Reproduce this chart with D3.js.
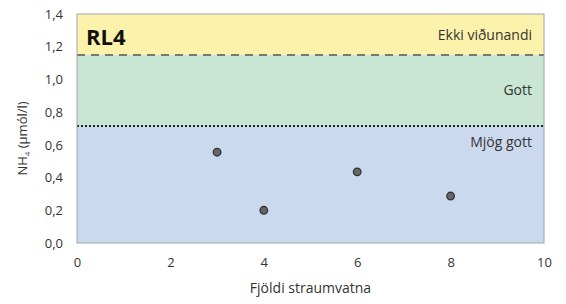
<!DOCTYPE html>
<html>
<head>
  <script src="https://d3js.org/d3.v7.min.js"></script>
  <style>
    body { margin: 0; background: #fff; }
    text { font-family: "Open Sans", sans-serif; fill: #333; }
  </style>
</head>
<body>
  <script>
    // data
    var xValues = [3, 4, 6, 8];
    var yValues = [0.555, 0.2, 0.435, 0.287];
    var xTicks = [0, 2, 4, 6, 8, 10];
    var yTicks = [0, 0.2, 0.4, 0.6, 0.8, 1.0, 1.2, 1.4];
    var bandNames = ["Mjög gott", "Gott", "Ekki viðunandi"];
    var bandLimits = [0, 0.715, 1.15, 1.4];
    var bandColors = ["#cbd9ef", "#c8e6d3", "#fcf2ab"];

    var margin = { top: 14, right: 22, bottom: 61, left: 77 },
      width = 566 - margin.left - margin.right,
      height = 304 - margin.top - margin.bottom;

    var x = d3.scaleLinear().domain([0, 10]).range([0, width]);
    var y = d3.scaleLinear().domain([0, 1.4]).range([height, 0]);

    var svg = d3.select("body").append("svg")
      .attr("width", 566)
      .attr("height", 304)
      .append("g")
      .attr("transform", "translate(" + margin.left + "," + margin.top + ")");

    // coloured quality bands
    svg.selectAll(".band")
      .data(bandNames)
      .enter().append("rect")
      .attr("x", 0)
      .attr("width", width)
      .attr("y", function (d, i) { return y(bandLimits[i + 1]); })
      .attr("height", function (d, i) { return y(bandLimits[i]) - y(bandLimits[i + 1]); })
      .attr("fill", function (d, i) { return bandColors[i]; });

    // band labels
    var labelY = [y(bandLimits[1]) + 21, (y(bandLimits[1]) + y(bandLimits[2])) / 2 + 5, y(bandLimits[2]) - 15];
    svg.selectAll(".bandlabel")
      .data(bandNames)
      .enter().append("text")
      .attr("x", width - 12)
      .attr("y", function (d, i) { return labelY[i]; })
      .attr("text-anchor", "end")
      .style("font-size", "14px")
      .text(function (d) { return d; });

    // limit lines
    svg.append("line")
      .attr("x1", 0).attr("x2", width)
      .attr("y1", y(bandLimits[2])).attr("y2", y(bandLimits[2]))
      .attr("stroke", "#777").attr("stroke-width", 2)
      .attr("stroke-dasharray", "8,6");
    svg.append("line")
      .attr("x1", 0).attr("x2", width)
      .attr("y1", y(bandLimits[1])).attr("y2", y(bandLimits[1]))
      .attr("stroke", "#222").attr("stroke-width", 2)
      .attr("stroke-dasharray", "2,2");

    // frame
    svg.append("rect")
      .attr("width", width).attr("height", height)
      .attr("fill", "none").attr("stroke", "#a0a4ac").attr("stroke-width", 1);

    // points
    svg.selectAll(".dot")
      .data(xValues)
      .enter().append("circle")
      .attr("cx", function (d) { return x(d); })
      .attr("cy", function (d, i) { return y(yValues[i]); })
      .attr("r", 3.8)
      .attr("fill", "#666")
      .attr("stroke", "#333")
      .attr("stroke-width", 1.3);

    // axes
    var xAxis = svg.append("g")
      .attr("transform", "translate(0," + height + ")")
      .call(d3.axisBottom(x).tickValues(xTicks).tickSize(0).tickPadding(15));
    var yAxis = svg.append("g")
      .call(d3.axisLeft(y).tickValues(yTicks).tickSize(0).tickPadding(14)
        .tickFormat(function (d) { return d3.format(".1f")(d).replace(".", ","); }));
    [xAxis, yAxis].forEach(function (a) {
      a.select(".domain").remove();
      a.selectAll("text").style("font-size", "13px").style("font-family", "Open Sans, sans-serif").attr("fill", "#333");
    });

    // title and axis labels
    svg.append("text")
      .attr("x", 9).attr("y", 31)
      .style("font-size", "22px").style("font-weight", "bold").style("fill", "#111")
      .text("RL4");

    svg.append("text")
      .attr("x", x(5)).attr("y", height + 50)
      .attr("text-anchor", "middle")
      .style("font-size", "14px")
      .text("Fjöldi straumvatna");

    var yl = svg.append("text")
      .attr("transform", "translate(-50," + (height / 2 + 10) + ") rotate(-90)")
      .attr("text-anchor", "middle")
      .style("font-size", "13px");
    yl.append("tspan").text("NH");
    yl.append("tspan").attr("dy", 3).style("font-size", "8px").text("4");
    yl.append("tspan").attr("dy", -3).text(" (µmól/l)");
  </script>
</body>
</html>
